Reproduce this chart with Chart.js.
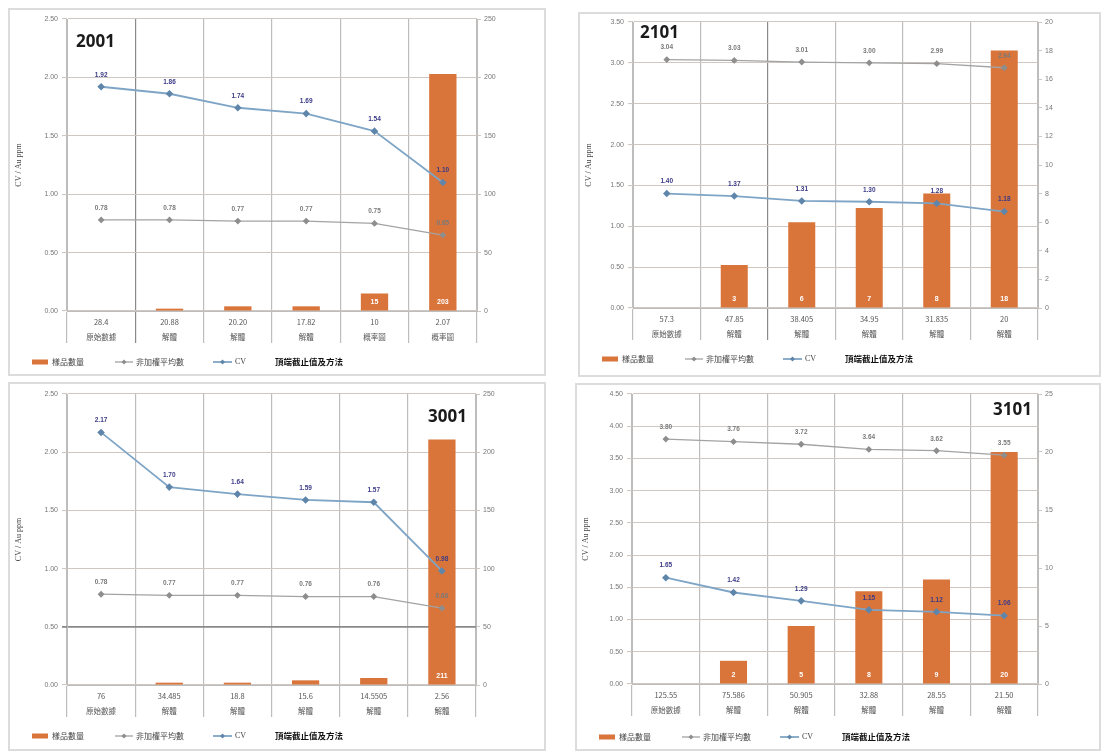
<!DOCTYPE html>
<html><head><meta charset="utf-8">
<script src="https://cdn.jsdelivr.net/npm/chart.js@4.4.1/dist/chart.umd.min.js"></script>
<style>
html,body{margin:0;padding:0;background:#fff;width:1105px;height:753px;overflow:hidden;}
canvas{position:absolute;}
.f{position:absolute;border:2px solid #dcdcdc;box-sizing:border-box;pointer-events:none;}
</style></head><body>
<canvas id="cA"></canvas><canvas id="cB"></canvas><canvas id="cC"></canvas><canvas id="cD"></canvas>
<div class="f" style="left:8px;top:8px;width:538px;height:368px"></div>
<div class="f" style="left:578px;top:12px;width:523px;height:365px"></div>
<div class="f" style="left:8px;top:382px;width:538px;height:369px"></div>
<div class="f" style="left:575px;top:383px;width:526px;height:368px"></div>
<script>
// ---------- data ----------
const legendLabels = ['樣品數量','非加權平均數','CV','頂端截止值及方法'];
const yTitle = 'CV / Au ppm';

const names = ['2001','2101','3001','3101'];

const methods2001 = ['原始數據','解體','解體','解體','概率圖','概率圖'];
const cutoffs2001 = ['28.4','20.88','20.20','17.82','10','2.07'];
const count2001 = [0,2,4,4,15,203];
const mean2001 = [0.78,0.78,0.77,0.77,0.75,0.65];
const cv2001 = [1.92,1.86,1.74,1.69,1.54,1.10];

const methods2101 = ['原始數據','解體','解體','解體','解體','解體'];
const cutoffs2101 = ['57.3','47.85','38.405','34.95','31.835','20'];
const count2101 = [0,3,6,7,8,18];
const mean2101 = [3.04,3.03,3.01,3.00,2.99,2.94];
const cv2101 = [1.40,1.37,1.31,1.30,1.28,1.18];

const methods3001 = ['原始數據','解體','解體','解體','解體','解體'];
const cutoffs3001 = ['76','34.485','18.8','15.6','14.5505','2.56'];
const count3001 = [0,2,2,4,6,211];
const mean3001 = [0.78,0.77,0.77,0.76,0.76,0.66];
const cv3001 = [2.17,1.70,1.64,1.59,1.57,0.98];

const methods3101 = ['原始數據','解體','解體','解體','解體','解體'];
const cutoffs3101 = ['125.55','75.586','50.905','32.88','28.55','21.50'];
const count3101 = [0,2,5,8,9,20];
const mean3101 = [3.80,3.76,3.72,3.64,3.62,3.55];
const cv3101 = [1.65,1.42,1.29,1.15,1.12,1.06];

// axis ranges: [leftMax, leftStep, rightMax, rightStep]
const axis2001 = [2.5,0.5,250,50];
const axis2101 = [3.5,0.5,20,2];
const axis3001 = [2.5,0.5,250,50];
const axis3101 = [4.5,0.5,25,5];

// ---------- styles ----------
const ORANGE = '#D9743A', BLUE = '#7FA5C6', BLUEM = '#5F86AA', GRAY = '#A3A3A3', GRAYM='#8E8E8E';
const GRID = '#CFC8C2';

const valuePlugin = {
  id:'vals',
  afterDatasetsDraw(chart){
    const ctx = chart.ctx;
    chart.data.datasets.forEach((ds,di)=>{
      const meta = chart.getDatasetMeta(di);
      meta.data.forEach((el,i)=>{
        const v = ds.data[i];
        if(!v) return;
        ctx.save();
        ctx.textAlign='center'; ctx.textBaseline='middle';
        if(ds.type==='bar'){
          ctx.fillStyle='#ffffff';
          ctx.font='bold 7px "Liberation Sans"';
          ctx.fillText(String(v), el.x, el.base-8);
        } else {
          ctx.fillStyle=ds.lblColor;
          ctx.font='bold 6.5px "Liberation Sans"';
          ctx.fillText(v.toFixed(2), el.x, el.y-12);
        }
        ctx.restore();
      });
    });
  }
};

const decoPlugin = {
  id:'deco',
  afterDraw(chart, args, o){
    const ctx = chart.ctx;
    ctx.save();
    // panel title
    ctx.font='bold 17px "Open Sans"';
    ctx.fillStyle='#1a1a1a';
    ctx.textBaseline='middle';
    ctx.textAlign=o.titleAlign;
    ctx.fillText(o.title, o.titleX, o.titleY);
    // legend row
    const y = o.legendY;
    ctx.textAlign='left';
    ctx.fillStyle=ORANGE;
    ctx.fillRect(24, y-2.5, 16, 5);
    ctx.font='8px "Noto Sans CJK TC"';
    ctx.fillStyle='#444';
    ctx.fillText(legendLabels[0], 44, y);
    // mean line
    ctx.strokeStyle=GRAY; ctx.lineWidth=1.3;
    ctx.beginPath(); ctx.moveTo(107,y); ctx.lineTo(125,y); ctx.stroke();
    ctx.fillStyle=GRAYM; ctx.beginPath(); ctx.moveTo(116,y-2.5);ctx.lineTo(118.5,y);ctx.lineTo(116,y+2.5);ctx.lineTo(113.5,y);ctx.closePath();ctx.fill();
    ctx.fillStyle='#444';
    ctx.fillText(legendLabels[1], 128, y);
    // cv line
    ctx.strokeStyle=BLUE; ctx.lineWidth=1.8;
    ctx.beginPath(); ctx.moveTo(205,y); ctx.lineTo(224,y); ctx.stroke();
    ctx.fillStyle=BLUEM; ctx.beginPath(); ctx.moveTo(214.5,y-2.5);ctx.lineTo(217,y);ctx.lineTo(214.5,y+2.5);ctx.lineTo(212,y);ctx.closePath();ctx.fill();
    ctx.fillStyle='#444';
    ctx.font='8px "Liberation Serif"';
    ctx.fillText(legendLabels[2], 227, y);
    ctx.font='bold 8.5px "Noto Sans CJK TC"';
    ctx.fillStyle='#111';
    ctx.fillText(legendLabels[3], 267, y);
    ctx.restore();
  }
};

function makePanel(id, pos, plot, cats, methods, counts, means, cvs, ax, deco, vDark, hDark){
  const cv = document.getElementById(id);
  cv.width = pos.w; cv.height = pos.h;
  cv.style.left = pos.x+'px'; cv.style.top = pos.y+'px';
  cv.style.width = pos.w+'px'; cv.style.height = pos.h+'px';
  const labels = cats.map((c,i)=>[c, methods[i]]);
  new Chart(cv, {
    data:{
      labels,
      datasets:[
        {type:'bar', label:legendLabels[0], data:counts, yAxisID:'y1', backgroundColor:ORANGE,
         barPercentage:0.4, categoryPercentage:1, order:3},
        {type:'line', label:legendLabels[1], data:means, yAxisID:'y', borderColor:GRAY, borderWidth:1.3,
         pointStyle:'rectRot', pointRadius:2.5, pointBackgroundColor:GRAYM, pointBorderColor:GRAYM,
         lblColor:'#7a7a7a', order:2, tension:0},
        {type:'line', label:legendLabels[2], data:cvs, yAxisID:'y', borderColor:BLUE, borderWidth:1.8,
         pointStyle:'rectRot', pointRadius:2.5, pointBackgroundColor:BLUEM, pointBorderColor:BLUEM,
         lblColor:'#3b3b86', order:1, tension:0}
      ]
    },
    options:{
      responsive:false, animation:false, devicePixelRatio:1,
      layout:{padding:{top:plot.t,left:0,right:0,bottom:0}},
      plugins:{legend:{display:false}, tooltip:{enabled:false}, title:{display:false}, deco},
      scales:{
        x:{
          type:'category', offset:true,
          grid:{offset:true, color:(c)=> (vDark.includes(c.index)?'#8a8a8a':'#BDBDBD'), lineWidth:1.2, tickLength:32, drawTicks:true},
          border:{display:true, color:'#BDBDBD'},
          ticks:{padding:-28, color:'#555', font:{family:'"Noto Sans CJK TC"', size:7.5, lineHeight:1.95}, maxRotation:0, autoSkip:false},
          afterFit:(s)=>{s.height = pos.h - plot.b;}
        },
        y:{
          position:'left', min:0, max:ax[0],
          ticks:{stepSize:ax[1], padding:4, color:'#777', font:{family:'"Liberation Sans"', size:7}, callback:(v)=>v.toFixed(2)},
          grid:{color:(c)=> (hDark.includes(c.index)?'#8a8a8a':GRID), lineWidth:(c)=>(hDark.includes(c.index)?1.8:1.1), tickLength:5},
          border:{display:true, color:'#BDBDBD'},
          title:{display:true, text:yTitle, color:'#444', font:{family:'"Liberation Serif"', size:8}, padding:{top:6,bottom:0}},
          afterFit:(s)=>{s.width = plot.l;}
        },
        y1:{
          position:'right', min:0, max:ax[2],
          ticks:{stepSize:ax[3], padding:3, color:'#777', font:{family:'"Liberation Sans"', size:7}},
          grid:{drawOnChartArea:false, tickLength:4, color:GRID},
          border:{display:true, color:'#BDBDBD'},
          afterFit:(s)=>{s.width = pos.w - plot.r;}
        }
      }
    },
    plugins:[valuePlugin, decoPlugin]
  });
}

makePanel('cA', {x:8,y:8,w:538,h:368}, {l:59,r:469,t:11,b:303},
  cutoffs2001, methods2001, count2001, mean2001, cv2001, axis2001,
  {title:names[0], titleAlign:'left', titleX:68, titleY:34, legendY:354}, [1], []);
makePanel('cB', {x:578,y:12,w:523,h:365}, {l:55,r:460,t:10,b:296},
  cutoffs2101, methods2101, count2101, mean2101, cv2101, axis2101,
  {title:names[1], titleAlign:'left', titleX:62, titleY:21, legendY:347}, [2], []);
makePanel('cC', {x:8,y:382,w:538,h:369}, {l:59,r:468,t:12,b:303},
  cutoffs3001, methods3001, count3001, mean3001, cv3001, axis3001,
  {title:names[2], titleAlign:'right', titleX:459, titleY:35, legendY:354}, [], [1]);
makePanel('cD', {x:575,y:383,w:526,h:368}, {l:57,r:463,t:11,b:301},
  cutoffs3101, methods3101, count3101, mean3101, cv3101, axis3101,
  {title:names[3], titleAlign:'right', titleX:457, titleY:27, legendY:354}, [], []);
</script>
</body></html>
